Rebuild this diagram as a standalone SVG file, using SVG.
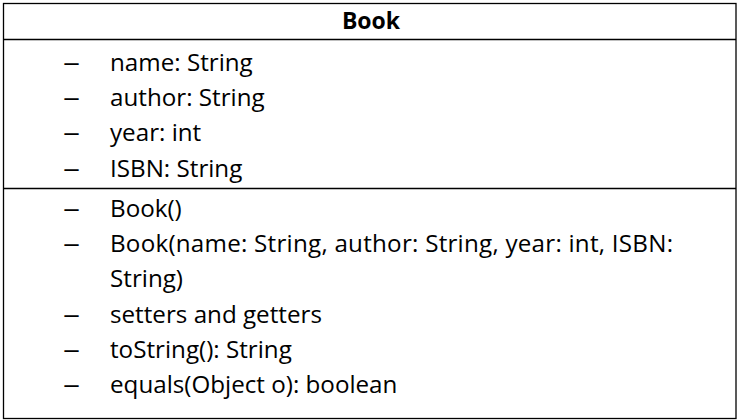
<svg xmlns="http://www.w3.org/2000/svg" width="742" height="420" viewBox="0 0 742 420">
<style>
.box{fill:#fff;stroke:#000;stroke-width:1.3}
.div{stroke:#000;stroke-width:1.3}
.t{font-family:"Open Sans","Liberation Sans",sans-serif;font-size:24.2px;fill:#000}
.title{font-family:"Open Sans","Liberation Sans",sans-serif;font-size:23px;font-weight:bold;fill:#000}
</style>
<rect width="742" height="420" fill="#fff"/>
<g id="book">
<rect class="box" x="3.5" y="3.5" width="732.5" height="415"/>
<line class="div" x1="3.5" y1="39.5" x2="736" y2="39.5"/>
<line class="div" x1="3.5" y1="188.5" x2="736" y2="188.5"/>
<text class="title" x="371" y="29" text-anchor="middle">Book</text>
<g class="t">
<text x="63" y="70.7" textLength="17" lengthAdjust="spacingAndGlyphs">–</text><text x="110" y="70.7">name: String</text>
<text x="63" y="106" textLength="17" lengthAdjust="spacingAndGlyphs">–</text><text x="110" y="106">author: String</text>
<text x="63" y="141.3" textLength="17" lengthAdjust="spacingAndGlyphs">–</text><text x="110" y="141.3">year: int</text>
<text x="63" y="176.6" textLength="17" lengthAdjust="spacingAndGlyphs">–</text><text x="110" y="176.6">ISBN: String</text>
<text x="63" y="216.7" textLength="17" lengthAdjust="spacingAndGlyphs">–</text><text x="110" y="216.7">Book()</text>
<text x="63" y="252" textLength="17" lengthAdjust="spacingAndGlyphs">–</text><text x="110" y="252" textLength="563">Book(name: String, author: String, year: int, ISBN:</text>
<text x="110" y="287.3">String)</text>
<text x="63" y="322.6" textLength="17" lengthAdjust="spacingAndGlyphs">–</text><text x="110" y="322.6">setters and getters</text>
<text x="63" y="358" textLength="17" lengthAdjust="spacingAndGlyphs">–</text><text x="110" y="358">toString(): String</text>
<text x="63" y="393.3" textLength="17" lengthAdjust="spacingAndGlyphs">–</text><text x="110" y="393.3">equals(Object o): boolean</text>
</g>
</g>
</svg>
